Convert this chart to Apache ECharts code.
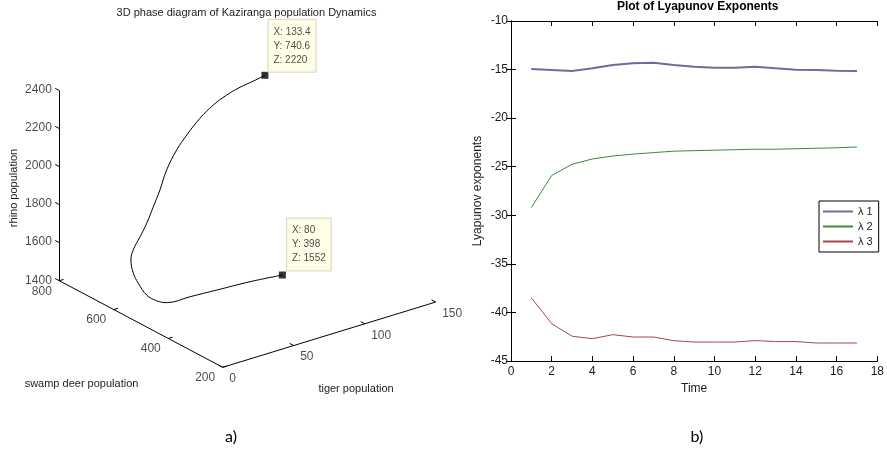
<!DOCTYPE html>
<html>
<head>
<meta charset="utf-8">
<title>Kaziranga population dynamics</title>
<script src="https://cdn.jsdelivr.net/npm/echarts@6.0.0/dist/echarts.min.js"></script>
<style>
  html, body { margin: 0; padding: 0; background: #fff; }
  #main { width: 887px; height: 452px; }
</style>
</head>
<body>
<div id="main"></div>
<script>
// a) trajectory (tiger, swamp deer, rhino)
const tigerPop = [80, 62, 46, 34, 24, 20, 17, 15, 14, 14, 16, 21, 28, 34, 40, 47, 56, 65, 76, 88, 100, 112, 123, 133.4]
const deerPop = [398, 423, 462, 497, 531, 547, 568, 588, 601, 610, 612, 613, 625, 632, 639, 651, 661, 671, 680, 693, 707, 720, 729, 740.6]
const rhinoPop = [1552, 1539, 1502, 1468, 1434, 1441, 1462, 1513, 1558, 1621, 1668, 1725, 1771, 1839, 1908, 1988, 2065, 2115, 2171, 2204, 2218, 2222, 2222, 2220]

const tigerTicks = [0, 50, 100, 150]
const deerTicks = [200, 400, 600, 800]
const rhinoTicks = [1400, 1600, 1800, 2000, 2200, 2400]

// b) Lyapunov exponents
const timeSteps = [1, 2, 3, 4, 5, 6, 7, 8, 9, 10, 11, 12, 13, 14, 15, 16, 17]
const lambda1 = [-14.94, -15.04, -15.15, -14.87, -14.53, -14.36, -14.29, -14.53, -14.7, -14.8, -14.8, -14.7, -14.87, -15.01, -15.04, -15.11, -15.15]
const lambda2 = [-29.2, -25.9, -24.75, -24.2, -23.9, -23.7, -23.55, -23.4, -23.35, -23.3, -23.25, -23.2, -23.2, -23.15, -23.1, -23.05, -22.97]
const lambda3 = [-38.5, -41.16, -42.45, -42.7, -42.29, -42.53, -42.53, -42.91, -43.05, -43.05, -43.05, -42.9, -43.0, -43.0, -43.15, -43.15, -43.15]

// orthographic view of the 3D box onto the hidden left grid (1 unit = 1px)
const proj = (t, d, r) => [
  222.7 + 1.42 * t - 0.2723 * (d - 200),
  84.7 + 0.435 * t + 0.1443 * (d - 200) + 0.1902 * (r - 1400)
]

const FONT = '"Liberation Sans", Arial, sans-serif'
const INK = '#1c1c1c'

const seg = (a, b) => ({ coords: [a, b] })
const boxLines = [
  seg(proj(0, 200, 1400), proj(150, 200, 1400)),
  seg(proj(0, 200, 1400), proj(0, 800, 1400)),
  seg(proj(0, 800, 1400), proj(0, 800, 2400))
]
tigerTicks.forEach(t => boxLines.push(seg(proj(t, 200, 1400), proj(t, 215, 1400))))
deerTicks.forEach(d => boxLines.push(seg(proj(0, d, 1400), proj(3, d, 1400))))
rhinoTicks.forEach(r => boxLines.push(seg(proj(0, 800, r), proj(0, 815, r))))

const tickLabel = (pos, name) => ({ value: pos, name: String(name) })

const trajectory = tigerPop.map((t, i) => proj(t, deerPop[i], rhinoPop[i]))
const last = tigerPop.length - 1
const tips = [
  { value: trajectory[last].concat([tigerPop[last], deerPop[last], rhinoPop[last]]), label: { position: [7, -52] } },
  { value: trajectory[0].concat([tigerPop[0], deerPop[0], rhinoPop[0]]), label: { position: [8, -53] } }
]

const hiddenTickSeries = (data, label) => ({
  type: 'scatter',
  xAxisIndex: 0,
  yAxisIndex: 0,
  symbolSize: 1,
  silent: true,
  itemStyle: { color: 'transparent' },
  label: Object.assign({ show: true, formatter: '{b}', color: INK, fontSize: 12, fontFamily: FONT }, label),
  data: data
})

const chart = echarts.init(document.getElementById('main'))

chart.setOption({
  backgroundColor: '#fff',
  animation: false,
  textStyle: { fontFamily: FONT },
  grid: [
    { left: 0, top: 0, width: 440, height: 452 },
    { left: 511, top: 21, width: 375, height: 340 }
  ],
  xAxis: [
    { gridIndex: 0, type: 'value', min: 0, max: 440, show: false },
    {
      gridIndex: 1, type: 'value', min: 0, max: 18, interval: 2, position: 'bottom',
      name: 'Time', nameLocation: 'middle', nameGap: 21,
      nameTextStyle: { color: INK, fontSize: 12 },
      axisLine: { lineStyle: { color: '#000' } },
      axisTick: { inside: true, length: 5, lineStyle: { color: '#000' } },
      axisLabel: { color: INK, fontSize: 12, margin: 5 },
      splitLine: { show: false }
    },
    {
      gridIndex: 1, type: 'value', min: 0, max: 18, interval: 2, position: 'top',
      axisLine: { lineStyle: { color: '#000' } },
      axisTick: { inside: true, length: 5, lineStyle: { color: '#000' } },
      axisLabel: { show: false },
      splitLine: { show: false }
    }
  ],
  yAxis: [
    { gridIndex: 0, type: 'value', min: 0, max: 452, show: false },
    {
      gridIndex: 1, type: 'value', min: -45, max: -10, interval: 5, position: 'left',
      name: 'Lyapunov exponents', nameLocation: 'middle', nameGap: 27,
      nameTextStyle: { color: INK, fontSize: 12 },
      axisLine: { lineStyle: { color: '#000' } },
      axisTick: { inside: true, length: 5, lineStyle: { color: '#000' } },
      axisLabel: { color: INK, fontSize: 12, margin: 3 },
      splitLine: { show: false }
    },
    {
      gridIndex: 1, type: 'value', min: -45, max: -10, interval: 5, position: 'right',
      axisLine: { lineStyle: { color: '#000' } },
      axisTick: { inside: true, length: 5, lineStyle: { color: '#000' } },
      axisLabel: { show: false },
      splitLine: { show: false }
    }
  ],
  legend: {
    data: ['λ 1', 'λ 2', 'λ 3'],
    orient: 'vertical',
    left: 819,
    top: 201,
    icon: 'rect',
    itemWidth: 30,
    itemHeight: 2,
    itemGap: 4,
    padding: [5, 6, 5, 4],
    backgroundColor: '#fff',
    borderColor: '#000',
    borderWidth: 1,
    borderRadius: 0,
    textStyle: { color: INK, fontSize: 11 }
  },
  graphic: [
    { type: 'text', x: 246.5, y: 13, style: { text: '3D phase diagram of Kaziranga population Dynamics', font: '11px ' + FONT, fill: INK, textAlign: 'center', textVerticalAlign: 'middle' } },
    { type: 'text', x: 14, y: 188, rotation: Math.PI / 2, style: { text: 'rhino population', font: '11px ' + FONT, fill: INK, textAlign: 'center', textVerticalAlign: 'middle' } },
    { type: 'text', x: 81.5, y: 384, style: { text: 'swamp deer population', font: '11px ' + FONT, fill: INK, textAlign: 'center', textVerticalAlign: 'middle' } },
    { type: 'text', x: 356, y: 389, style: { text: 'tiger population', font: '11px ' + FONT, fill: INK, textAlign: 'center', textVerticalAlign: 'middle' } },
    { type: 'text', x: 697.7, y: 7, style: { text: 'Plot of Lyapunov Exponents', font: 'bold 12px ' + FONT, fill: '#000', textAlign: 'center', textVerticalAlign: 'middle' } },
    { type: 'text', x: 231, y: 437, style: { text: 'a)', font: '16px Lato, "Open Sans", sans-serif', fill: '#000', textAlign: 'center', textVerticalAlign: 'middle' } },
    { type: 'text', x: 697, y: 437, style: { text: 'b)', font: '16px Lato, "Open Sans", sans-serif', fill: '#000', textAlign: 'center', textVerticalAlign: 'middle' } }
  ],
  series: [
    {
      type: 'lines',
      coordinateSystem: 'cartesian2d',
      xAxisIndex: 0,
      yAxisIndex: 0,
      silent: true,
      lineStyle: { color: '#000', width: 1, opacity: 1 },
      data: boxLines
    },
    hiddenTickSeries(rhinoTicks.map(r => tickLabel(proj(0, 800, r), r)),
      { position: [-7, 0], align: 'right', verticalAlign: 'middle' }),
    hiddenTickSeries(deerTicks.map(d => tickLabel(proj(0, d, 1400), d)),
      { position: [-17, 11], align: 'center', verticalAlign: 'middle' }),
    hiddenTickSeries(tigerTicks.map(t => tickLabel(proj(t, 200, 1400), t)),
      { position: [7, 12], align: 'left', verticalAlign: 'middle' }),
    {
      type: 'line',
      xAxisIndex: 0,
      yAxisIndex: 0,
      data: trajectory,
      smooth: 0.4,
      symbol: 'none',
      silent: true,
      lineStyle: { color: '#000', width: 1 }
    },
    {
      type: 'scatter',
      xAxisIndex: 0,
      yAxisIndex: 0,
      symbol: 'rect',
      symbolSize: 7,
      silent: true,
      itemStyle: { color: '#000' },
      label: {
        show: true,
        align: 'left',
        verticalAlign: 'top',
        formatter: p => 'X: ' + p.value[2] + '\nY: ' + p.value[3] + '\nZ: ' + p.value[4],
        color: INK,
        fontSize: 10,
        lineHeight: 14,
        fontFamily: FONT,
        backgroundColor: '#ffffe3',
        borderColor: '#cfcfb8',
        borderWidth: 1,
        padding: [5, 5, 5, 5]
      },
      data: tips
    },
    {
      name: 'λ 1', type: 'line', xAxisIndex: 1, yAxisIndex: 1,
      data: timeSteps.map((t, i) => [t, lambda1[i]]),
      symbol: 'none', lineStyle: { color: '#6c6c9e', width: 2 }, itemStyle: { color: '#6c6c9e' }
    },
    {
      name: 'λ 2', type: 'line', xAxisIndex: 1, yAxisIndex: 1,
      data: timeSteps.map((t, i) => [t, lambda2[i]]),
      symbol: 'none', lineStyle: { color: '#3d8a3d', width: 1 }, itemStyle: { color: '#3d8a3d' }
    },
    {
      name: 'λ 3', type: 'line', xAxisIndex: 1, yAxisIndex: 1,
      data: timeSteps.map((t, i) => [t, lambda3[i]]),
      symbol: 'none', lineStyle: { color: '#a84848', width: 1 }, itemStyle: { color: '#a84848' }
    }
  ]
})
</script>
</body>
</html>
